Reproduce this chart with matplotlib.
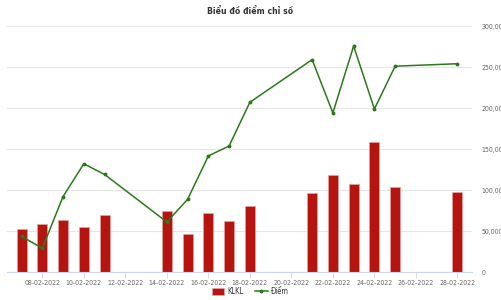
import numpy as np
import matplotlib
matplotlib.use('Agg')
import matplotlib.pyplot as plt
from matplotlib.ticker import FuncFormatter

plt.rcParams['font.family'] = ['DejaVu Sans']
plt.rcParams['font.stretch'] = 'condensed'

# days of February 2022 shown on the category axis
days = list(range(7, 29))
date_labels = ["%02d-02-2022" % d for d in days]

# KLKL bars (thousands), trading days only
bar_days = [7, 8, 9, 10, 11, 14, 15, 16, 17, 18, 21, 22, 23, 24, 25, 28]
klkl = [52, 58, 64, 54.5, 70, 74, 46.7, 72, 62, 81, 96.7, 118, 107.7, 158, 103.7, 97.6]

# Diem line (same scale)
line_days = [7, 8, 9, 10, 11, 14, 15, 16, 17, 18, 21, 22, 23, 24, 25, 28]
diem = [43.5, 29, 92, 132, 119, 61, 88.6, 141.5, 153.7, 207, 259, 194, 275.6, 198.8, 251, 254]

fig = plt.figure(figsize=(5.01, 3.00), dpi=100)
ax = fig.add_axes([0.014, 0.0933, 0.928, 0.82])

bx = [days.index(d) for d in bar_days]
lx = [days.index(d) for d in line_days]

bars = ax.bar(bx, klkl, width=0.48, color='#b5140f', edgecolor='#e8a0a0', linewidth=0.5,
              label='KLKL', zorder=2)
line, = ax.plot(lx, diem, color='#2a7a1a', linewidth=1.1, marker='o', markersize=1.8,
                label='Điểm', zorder=3)

ax.set_xlim(-0.7, len(days) - 0.3)
ax.set_ylim(0, 300)
ax.set_yticks(np.arange(0, 301, 50))
ax.yaxis.set_major_formatter(FuncFormatter(lambda v, p: "0" if v == 0 else "{:,.0f}".format(v * 1000)))
ax.yaxis.tick_right()
ax.tick_params(axis='y', length=0, pad=7, labelsize=5, labelcolor='#666666')

ax.set_xticks(range(1, len(days), 2))
ax.set_xticklabels(date_labels[1::2])
ax.tick_params(axis='x', length=4, width=0.6, color='#ccd6eb', pad=2,
               labelsize=5, labelcolor='#666666')

ax.grid(axis='y', color='#e6e6e6', linewidth=0.8, zorder=0)
ax.set_axisbelow(True)
for s in ['top', 'left', 'right']:
    ax.spines[s].set_visible(False)
ax.spines['bottom'].set_color('#ccd6eb')
ax.spines['bottom'].set_linewidth(0.8)

fig.text(0.5, 0.963, 'Biểu đồ điểm chỉ số', ha='center', va='center',
         fontsize=6.2, fontweight='bold', color='#333333')

fig.legend(handles=[bars, line], labels=['KLKL', 'Điểm'], loc='center',
           bbox_to_anchor=(0.5, 0.027), ncol=2, frameon=False,
           fontsize=5.5, handlelength=1.6, handleheight=1.1, columnspacing=1.5,
           handletextpad=0.5, labelcolor='#333333')

fig.savefig('out.png', dpi=100)
